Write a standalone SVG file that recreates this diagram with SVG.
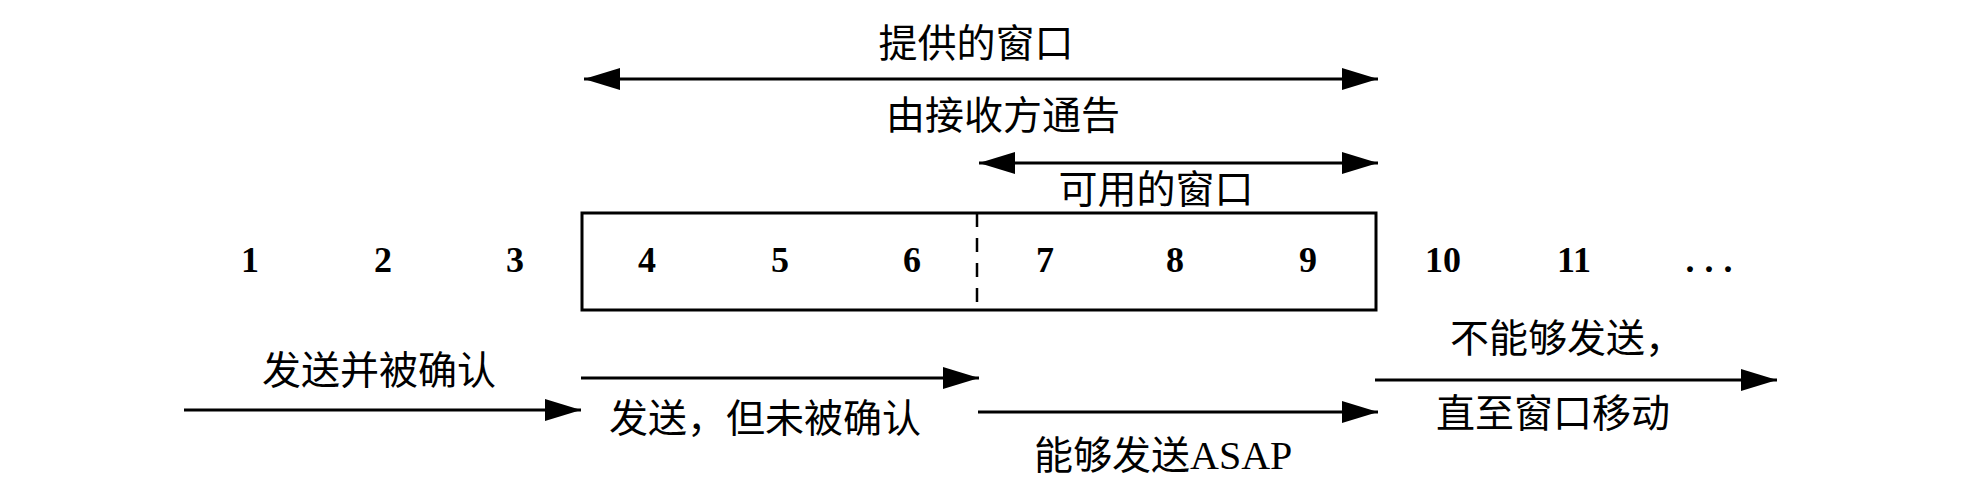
<svg xmlns="http://www.w3.org/2000/svg" width="1979" height="491" viewBox="0 0 1979 491">
<style>
.cjk{font-family:"Noto Sans CJK SC","Noto Sans",sans-serif;font-size:39px;fill:#000}
.num{font-family:"Liberation Serif",serif;font-weight:bold;font-size:36px;fill:#000;text-anchor:middle}
.lat{font-family:"Liberation Serif",serif;font-size:40px}
.conn{stroke:#000;stroke-width:3;fill:none}
.box{stroke:#000;stroke-width:3;fill:none}
</style>
<defs>
<marker id="ah" markerUnits="userSpaceOnUse" markerWidth="36" markerHeight="22" refX="36" refY="11" orient="auto-start-reverse" viewBox="0 0 36 22">
<path d="M0,0 L36,11 L0,22 Z" fill="#000"/>
</marker>
</defs>
<rect width="1979" height="491" fill="#fff"/>

<g id="connectors">
<line class="conn" x1="584" y1="79" x2="1378" y2="79" marker-start="url(#ah)" marker-end="url(#ah)"/>
<line class="conn" x1="979" y1="163" x2="1378" y2="163" marker-start="url(#ah)" marker-end="url(#ah)"/>
<line class="conn" x1="184" y1="410" x2="581" y2="410" marker-end="url(#ah)"/>
<line class="conn" x1="581" y1="378" x2="979" y2="378" marker-end="url(#ah)"/>
<line class="conn" x1="978" y1="412" x2="1378" y2="412" marker-end="url(#ah)"/>
<line class="conn" x1="1375" y1="380" x2="1777" y2="380" marker-end="url(#ah)"/>
</g>

<g id="window-box">
<rect class="box" x="582" y="213" width="794" height="97"/>
<line x1="977" y1="213" x2="977" y2="310" stroke="#000" stroke-width="2.5" stroke-dasharray="14 11"/>
</g>

<g id="numbers">
<text class="num" x="250" y="272">1</text>
<text class="num" x="383" y="272">2</text>
<text class="num" x="515" y="272">3</text>
<text class="num" x="647" y="272">4</text>
<text class="num" x="780" y="272">5</text>
<text class="num" x="912" y="272">6</text>
<text class="num" x="1045" y="272">7</text>
<text class="num" x="1175" y="272">8</text>
<text class="num" x="1308" y="272">9</text>
<text class="num" x="1443" y="272">10</text>
<text class="num" x="1574" y="272">11</text>
<text class="num" x="1714" y="272" letter-spacing="10">...</text>
</g>

<g id="label-offered">
<text class="cjk" x="976" y="57" text-anchor="middle">提供的窗口</text>
</g>
<g id="label-advertised">
<text class="cjk" x="1003" y="129" text-anchor="middle">由接收方通告</text>
</g>
<g id="label-usable">
<text class="cjk" x="1156" y="203" text-anchor="middle">可用的窗口</text>
</g>
<g id="label-sent-acked">
<text class="cjk" x="379" y="384" text-anchor="middle">发送并被确认</text>
</g>
<g id="label-sent-unacked">
<text class="cjk" x="609" y="432">发送，但未被确认</text>
</g>
<g id="label-can-send">
<text class="cjk" x="1034" y="469">能够发送<tspan class="lat">ASAP</tspan></text>
</g>
<g id="label-cannot-send">
<text class="cjk" x="1450" y="352">不能够发送，</text>
<text class="cjk" x="1553" y="427" text-anchor="middle">直至窗口移动</text>
</g>
</svg>
